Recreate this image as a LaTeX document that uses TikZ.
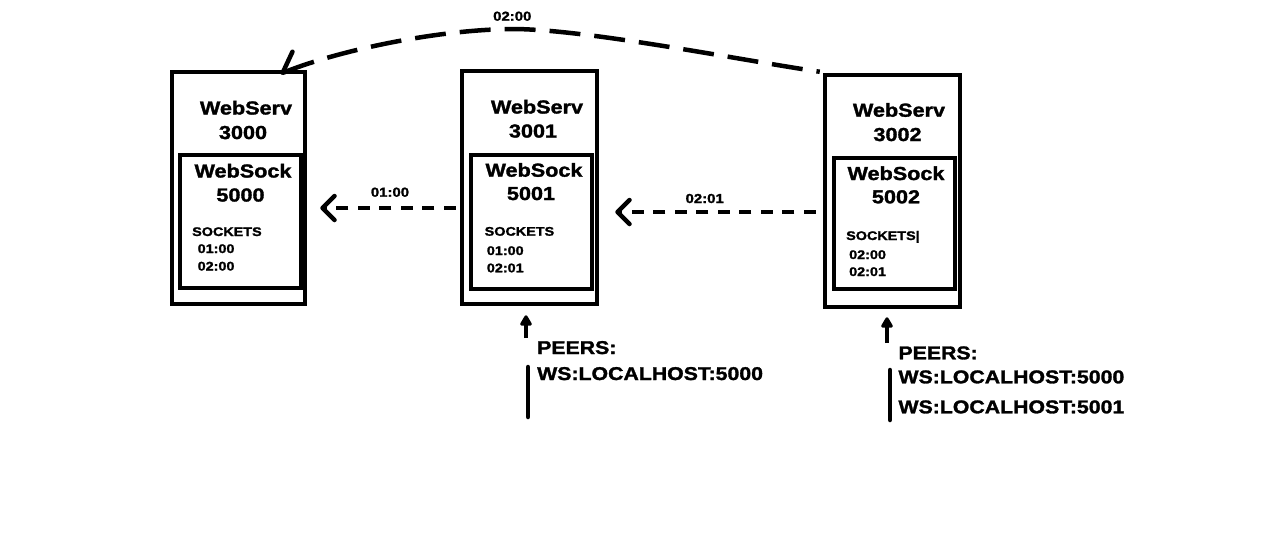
\documentclass[tikz,border=0pt]{standalone}
\usepackage{fontspec}
\setmainfont{Liberation Sans}[FakeStretch=1.15, BoldFeatures={FakeBold=1.6}]
\usetikzlibrary{arrows.meta}
\begin{document}
\begin{tikzpicture}[x=1pt,y=-1pt,
  outerbox/.style={draw, line width=4.5pt, inner sep=0pt, minimum width=#1},
  innerbox/.style={draw, line width=4pt, inner sep=0pt, minimum width=121pt},
  big/.style={inner sep=0pt, anchor=base, font=\bfseries\fontsize{18.8}{22}\selectfont},
  small/.style={inner sep=0pt, anchor=base west, font=\bfseries\fontsize{12.5}{15}\selectfont},
  lbl/.style={inner sep=0pt, anchor=base, font=\bfseries\fontsize{13}{15}\selectfont},
  peer/.style={inner sep=0pt, anchor=base west, font=\bfseries\fontsize{18.5}{22}\selectfont},
  dashconn/.style={line width=4.5pt, dash pattern=on 12pt off 9.5pt},
  barb/.style={-{Straight Barb[length=12pt, width=24pt, round]}},
  uparrow/.style={line width=4.5pt, -{Triangle[length=12pt, width=13pt, round]}},
  bar/.style={line width=4.5pt, line cap=round}
]
\fill[white] (0,0) rectangle (1270,533);

% boxes
\node[outerbox=133pt, minimum height=232pt] (s1) at (238.5,188) {};
\node[innerbox, minimum height=133pt] (k1) at (240.5,221.5) {};
\node[outerbox=135pt, minimum height=233pt] (s2) at (529.5,187.5) {};
\node[innerbox, minimum height=134pt] (k2) at (531.5,222) {};
\node[outerbox=135pt, minimum height=232pt] (s3) at (892.5,191) {};
\node[innerbox, minimum height=131pt] (k3) at (894.5,223.5) {};

% box 1 texts
\node[big] (t1a) at (246,114.5) {WebServ};
\node[big] (t1b) at (243,139) {3000};
\node[big] (t1c) at (243,177.5) {WebSock};
\node[big] (t1d) at (240.5,201.5) {5000};
\node[small] (t1e) at (192,236) {SOCKETS};
\node[small] (t1f) at (197.5,253) {01:00};
\node[small] (t1g) at (197.5,270.5) {02:00};

% box 2 texts
\node[big] (t2a) at (537,113.5) {WebServ};
\node[big] (t2b) at (533,137.5) {3001};
\node[big] (t2c) at (534,176.7) {WebSock};
\node[big] (t2d) at (531,200) {5001};
\node[small] (t2e) at (484.5,235.7) {SOCKETS};
\node[small] (t2f) at (486.7,255) {01:00};
\node[small] (t2g) at (486.7,272.3) {02:01};

% box 3 texts
\node[big] (t3a) at (899,116.7) {WebServ};
\node[big] (t3b) at (897.5,141) {3002};
\node[big] (t3c) at (896,180) {WebSock};
\node[big] (t3d) at (896,203.3) {5002};
\node[small] (t3e) at (846,240) {SOCKETS|};
\node[small] (t3f) at (849,259) {02:00};
\node[small] (t3g) at (849,276) {02:01};

% horizontal dashed arrows
\draw[dashconn, barb] ([shift={(-4,20.5)}]s2.west) -- ([shift={(13,20)}]s1.east);
\node[lbl] (l1) at (390,196.7) {01:00};
\draw[dashconn, barb] ([shift={(-7,21)}]s3.west) -- ([shift={(16,24.5)}]s2.east);
\node[lbl] (l2) at (704.7,203) {02:01};

% top curved dashed arrow (drawn from its tip so that the first dash reaches the tip)
\coordinate (cs) at ([shift={(-3,-1)}]s3.north west);
\coordinate (peak) at (515,29);
\coordinate (ce) at ([shift={(42,4)}]s1.north);
\draw[line width=4.5pt, dash pattern=on 31pt off 14pt, {Straight Barb[length=17pt, width=32pt, round, right]}-]
  (ce) .. controls (340,50) and (440,29) .. (peak)
       .. controls (590,30) and (740,60) .. (cs);
\node[lbl] (l3) at (512.3,20.7) {02:00};

% peers under box 2
\coordinate (p2) at (526,338);
\draw[uparrow, shorten >=9pt] (p2) -- (p2 |- s2.south);
\coordinate (b2a) at (528,367);
\coordinate (b2b) at (528,417);
\draw[bar] (b2a) -- (b2b);
\node[peer] (pe2a) at (537,354) {PEERS:};
\node[peer] (pe2b) at (537,380) {WS:LOCALHOST:5000};

% peers under box 3
\coordinate (p3) at (887,343);
\draw[uparrow, shorten >=8pt] (p3) -- (p3 |- s3.south);
\coordinate (b3a) at (890,370);
\coordinate (b3b) at (890,420);
\draw[bar] (b3a) -- (b3b);
\node[peer] (pe3a) at (898.3,359.3) {PEERS:};
\node[peer] (pe3b) at (898.3,383.3) {WS:LOCALHOST:5000};
\node[peer] (pe3c) at (898.3,413.3) {WS:LOCALHOST:5001};
\end{tikzpicture}
\end{document}
